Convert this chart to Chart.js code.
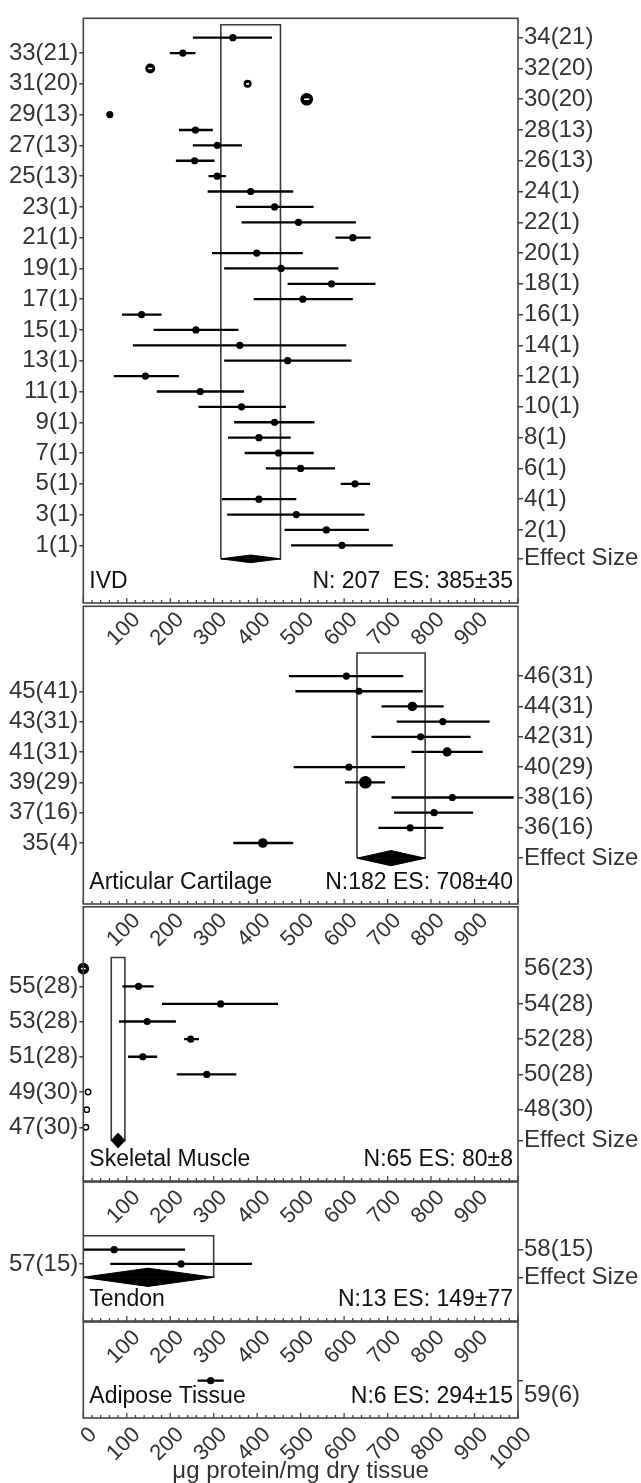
<!DOCTYPE html>
<html>
<head>
<meta charset="utf-8">
<script src="https://cdn.jsdelivr.net/npm/chart.js@4.4.1/dist/chart.umd.min.js"></script>
<style>
  html, body { margin: 0; padding: 0; background: #fff; }
  #wrap { position: relative; width: 641px; height: 1483px; overflow: hidden; }
  #wrap canvas { position: absolute; left: 0; }
</style>
</head>
<body>
<div id="wrap"></div>
<script>
// ---- data ----
// IVD
const ivdLabels = ['34(21)','33(21)','32(20)','31(20)','30(20)','29(13)','28(13)','27(13)','26(13)','25(13)',
  '24(1)','23(1)','22(1)','21(1)','20(1)','19(1)','18(1)','17(1)','16(1)','15(1)','14(1)','13(1)','12(1)',
  '11(1)','10(1)','9(1)','8(1)','7(1)','6(1)','5(1)','4(1)','3(1)','2(1)','1(1)'];
const ivdMean = [344,229,154,378,514,61,258,308,256,308,385,440,495,620,399,455,571,505,134,259,360,470,143,269,364,440,404,449,500,625,404,490,559,595];
const ivdLow  = [252,199,null,null,null,null,220,252,213,288,286,351,364,580,296,324,470,392,89,162,114,324,70,169,265,347,333,371,420,592,319,331,463,478];
const ivdHigh = [434,258,null,null,null,null,298,365,302,328,483,530,627,661,505,587,672,620,180,357,605,617,220,370,466,532,477,530,579,660,490,647,657,712];

// Articular cartilage
const acLabels = ['46(31)','45(41)','44(31)','43(31)','42(31)','41(31)','40(29)','39(29)','38(16)','37(16)','36(16)','35(4)'];
const acMean = [605,634,757,827,776,837,611,649,849,807,752,413];
const acLow  = [473,488,686,721,663,755,484,602,709,715,679,345];
const acHigh = [736,781,829,935,891,919,740,694,990,897,828,483];

// Skeletal muscle
const smLabels = ['56(23)','55(28)','54(28)','53(28)','52(28)','51(28)','50(28)','49(30)','48(30)','47(30)'];
const smMean = [0,127,316,147,247,137,284,11,8,6];
const smLow  = [null,90,181,82,232,103,215,null,null,null];
const smHigh = [null,162,448,213,266,170,352,null,null,null];

// Tendon
const tdLabels = ['58(15)','57(15)'];
const tdMean = [71,225];
const tdLow  = [0,62];
const tdHigh = [234,388];

// Adipose tissue
const atLabels = ['59(6)'];
const atMean = [293];
const atLow  = [263];
const atHigh = [323];

// summary per tissue
const tissueNames = ['IVD','Articular Cartilage','Skeletal Muscle','Tendon','Adipose Tissue'];
const tissueN = [207,182,65,13,6];
const effectSize = [385,708,80,149,294];
const effectSE = [35,40,8,77,15];
const xTicks = [0,100,200,300,400,500,600,700,800,900,1000];
const xTitle = 'μg protein/mg dry tissue';

// ---- layout / styles ----
const W = 641, H = 1483;
const plotLeft = 83.3, plotRight = 518;
const FONT = "'Liberation Sans', Arial, sans-serif";
const labelFont = { family: FONT, size: 24 };
const xTickFont = { family: FONT, size: 22 };
const minorStep = 20;

// frame top/bottom (page px) and y range in row units
const layout = [
  { top: 15,   bottom: 603,  yMin: -2.75, yMax: 35.26, effRow: 0.12,  boxTop: 34.84, dHalf: 0.25 },
  { top: 603,  bottom: 904,  yMin: 30.98, yMax: 50.6,  effRow: 34,    boxTop: 47.52, dHalf: 0.5 },
  { top: 904,  bottom: 1181, yMin: 43.95, yMax: 59.51, effRow: 46.25, boxTop: 56.63, dHalf: 0.42 },
  { top: 1181, bottom: 1321, yMin: 52.99, yMax: 62.76, effRow: 56.06, boxTop: 58.98, dHalf: 0.64 },
  { top: 1321, bottom: 1418, yMin: 56.49, yMax: 62.95, effRow: null }
];

// marker looks by study number
const ringSize = { 32: 5, 31: 4, 30: 6.3, 56: 5.8 };
const openSize = { 49: 2.7, 48: 2.7, 47: 2.7 };
const dotSize = { 39: 6.3, 44: 4.8, 41: 4.6, 35: 4.8 };
const defaultDot = 3.6;

const panels = [
  { labels: ivdLabels, mean: ivdMean, lo: ivdLow, hi: ivdHigh },
  { labels: acLabels, mean: acMean, lo: acLow, hi: acHigh },
  { labels: smLabels, mean: smMean, lo: smLow, hi: smHigh },
  { labels: tdLabels, mean: tdMean, lo: tdLow, hi: tdHigh },
  { labels: atLabels, mean: atMean, lo: atLow, hi: atHigh }
];

const rowOf = lab => parseInt(lab, 10);

function statText(i) {
  if (i === 0) return 'N: ' + tissueN[i] + '  ES: ' + effectSize[i] + '±' + effectSE[i];
  return 'N:' + tissueN[i] + ' ES: ' + effectSize[i] + '±' + effectSE[i];
}

// frame, inward x ticks and panel captions
const framePlugin = {
  id: 'frame',
  afterDraw(chart) {
    const { ctx, chartArea: a, scales: { x } } = chart;
    const i = chart.options.plugins.frame.index;
    ctx.save();
    ctx.strokeStyle = '#444';
    ctx.lineWidth = 1.6;
    ctx.strokeRect(a.left, a.top, a.right - a.left, a.bottom - a.top);
    ctx.lineWidth = 1.3;
    for (let v = 0; v <= 1000; v += minorStep) {
      const px = x.getPixelForValue(v);
      const len = v % 100 === 0 ? 5 : 3;
      ctx.beginPath();
      ctx.moveTo(px, a.bottom);
      ctx.lineTo(px, a.bottom - len);
      ctx.stroke();
    }
    ctx.fillStyle = '#111';
    ctx.font = '23px ' + FONT;
    ctx.textBaseline = 'middle';
    ctx.textAlign = 'left';
    ctx.fillText(tissueNames[i], a.left + 6, a.bottom - 21);
    ctx.textAlign = 'right';
    ctx.fillText(statText(i), a.right - 5, a.bottom - 21);
    ctx.restore();
  }
};

const wrap = document.getElementById('wrap');

panels.forEach((p, i) => {
  const L = layout[i];
  const last = i === panels.length - 1;
  const padTop = 3;
  const below = last ? H - L.bottom : 48;

  const canvas = document.createElement('canvas');
  canvas.width = W;
  canvas.height = L.bottom - L.top + padTop + below;
  canvas.style.top = (L.top - padTop) + 'px';
  wrap.appendChild(canvas);

  const datasets = [];

  // error bars
  p.labels.forEach((lab, k) => {
    if (p.lo[k] == null) return;
    datasets.push({
      data: [{ x: p.lo[k], y: rowOf(lab) }, { x: p.hi[k], y: rowOf(lab) }],
      showLine: true, borderColor: '#000', borderWidth: 2.3, pointRadius: 0, order: 3
    });
  });

  // study means
  const rows = p.labels.map(rowOf);
  datasets.push({
    data: p.labels.map((lab, k) => ({ x: p.mean[k], y: rowOf(lab) })),
    pointRadius: rows.map(r => ringSize[r] || openSize[r] || dotSize[r] || defaultDot),
    pointBackgroundColor: rows.map(r => openSize[r] ? '#fff' : '#000'),
    pointBorderColor: '#000',
    pointBorderWidth: rows.map(r => openSize[r] ? 1.4 : 0),
    clip: false,
    order: 0
  });

  // white slot inside ring markers
  const ringIdx = p.labels.map((lab, k) => k).filter(k => ringSize[rows[k]]);
  if (ringIdx.length) {
    datasets.push({
      data: ringIdx.map(k => ({ x: p.mean[k], y: rows[k] })),
      pointStyle: 'line',
      pointRadius: ringIdx.map(k => ringSize[rows[k]] * 0.4),
      pointBorderColor: '#fff',
      pointBorderWidth: 1.6,
      clip: false,
      order: -1
    });
  }

  // pooled effect box and diamond
  if (L.effRow != null) {
    const es = effectSize[i];
    const half = 1.96 * effectSE[i];
    const e = L.effRow;
    datasets.push({
      data: [{ x: es - half, y: e }, { x: es - half, y: L.boxTop }, { x: es + half, y: L.boxTop },
             { x: es + half, y: e }, { x: es - half, y: e }],
      showLine: true, borderColor: '#3a3a3a', borderWidth: 1.6, pointRadius: 0, order: 4
    });
    [1, -1].forEach(sgn => {
      datasets.push({
        data: [{ x: es - half, y: e }, { x: es, y: e + sgn * L.dHalf }, { x: es + half, y: e }],
        showLine: true, fill: { value: e }, backgroundColor: '#000',
        borderColor: '#000', borderWidth: 1, pointRadius: 0, order: 1
      });
    });
  }

  // y tick labels: odd rows left, even rows + effect size right
  const leftMap = {}, rightMap = {};
  p.labels.forEach(lab => {
    const r = rowOf(lab);
    if (last) rightMap[r] = ['', lab];
    else if (r % 2 === 0) rightMap[r] = lab;
    else leftMap[r] = lab;
  });
  if (L.effRow != null) rightMap[L.effRow] = 'Effect Size';
  const leftVals = Object.keys(leftMap).map(Number).sort((a, b) => a - b);
  const rightVals = Object.keys(rightMap).map(Number).sort((a, b) => a - b);

  const yAxis = (vals, map, pos) => ({
    type: 'linear',
    position: pos,
    min: L.yMin,
    max: L.yMax,
    afterBuildTicks: s => { s.ticks = vals.map(v => ({ value: v })); },
    afterFit: s => {
      s.width = pos === 'left' ? plotLeft : W - plotRight;
      s.paddingTop = 0;
      s.paddingBottom = 0;
    },
    ticks: {
      autoSkip: false,
      color: '#333',
      font: labelFont,
      padding: 1,
      callback: v => map[v]
    },
    grid: {
      drawOnChartArea: false,
      tickLength: pos === 'left' ? 4 : 5,
      tickColor: ctx => (ctx.tick && ctx.tick.value === 56) ? 'rgba(0,0,0,0)' : '#444',
      lineWidth: 1.5
    },
    border: { display: false }
  });

  new Chart(canvas, {
    type: 'scatter',
    data: { datasets },
    options: {
      responsive: false,
      animation: false,
      devicePixelRatio: 1,
      layout: { padding: { top: padTop, left: 0, right: 0, bottom: 0 } },
      plugins: {
        legend: { display: false },
        tooltip: { enabled: false },
        frame: { index: i }
      },
      scales: {
        x: {
          type: 'linear',
          position: 'bottom',
          min: 0,
          max: 1000,
          afterBuildTicks: s => { s.ticks = xTicks.map(v => ({ value: v })); },
          afterFit: s => {
            s.height = below;
            s.paddingLeft = 0;
            s.paddingRight = 0;
          },
          ticks: {
            autoSkip: false,
            minRotation: 45,
            maxRotation: 45,
            padding: 4,
            labelOffset: 10,
            color: '#333',
            font: xTickFont,
            callback: v => (last || (v > 0 && v < 1000)) ? String(v) : ''
          },
          grid: { display: false, drawTicks: false },
          border: { display: false },
          title: {
            display: last,
            text: xTitle,
            color: '#333',
            font: { family: FONT, size: 24, lineHeight: 1.0 },
            padding: { top: 0, bottom: 0 }
          }
        },
        y: yAxis(leftVals, leftMap, 'left'),
        y2: yAxis(rightVals, rightMap, 'right')
      }
    },
    plugins: [framePlugin]
  });
});
</script>
</body>
</html>
